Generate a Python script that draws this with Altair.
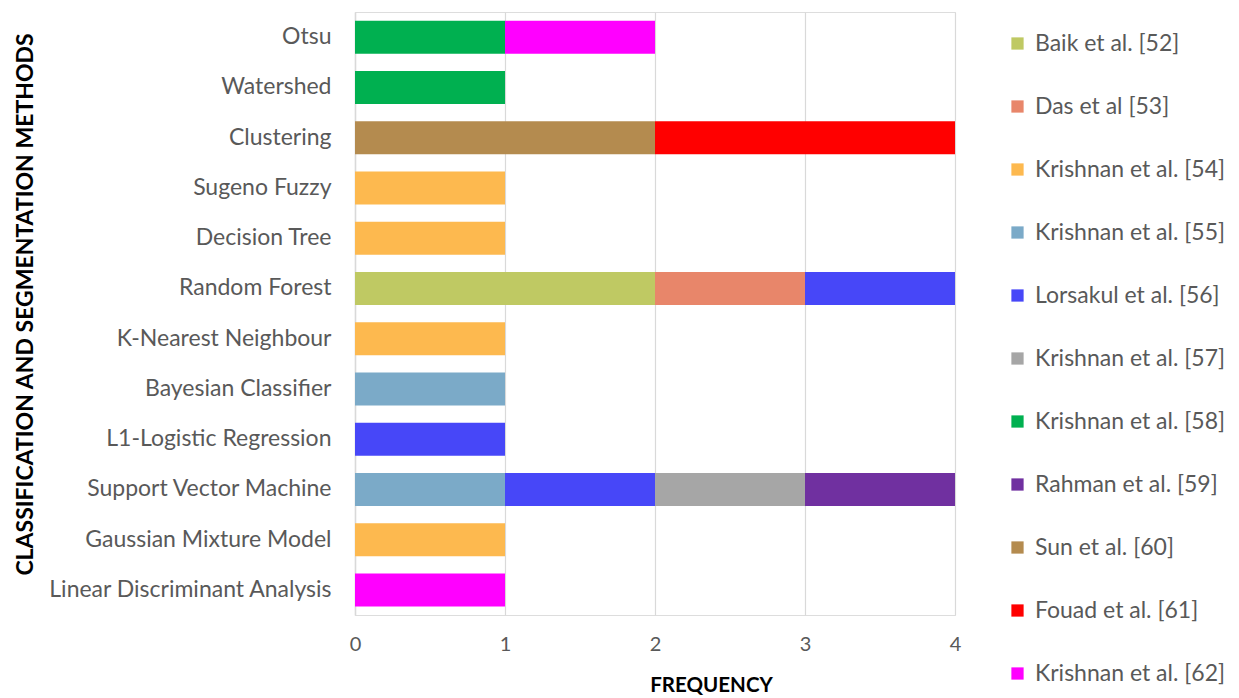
import altair as alt
import pandas as pd

methods = ["Otsu", "Watershed", "Clustering", "Sugeno Fuzzy", "Decision Tree",
           "Random Forest", "K-Nearest Neighbour", "Bayesian Classifier",
           "L1-Logistic Regression", "Support Vector Machine",
           "Gaussian Mixture Model", "Linear Discriminant Analysis"]

series = ["Baik et al. [52]", "Das et al [53]", "Krishnan et al. [54]",
          "Krishnan et al. [55]", "Lorsakul et al. [56]", "Krishnan et al. [57]",
          "Krishnan et al. [58]", "Rahman et al. [59]", "Sun et al. [60]",
          "Fouad et al. [61]", "Krishnan et al. [62]"]

colors = ["#BFC963", "#E8866A", "#FDB94F", "#7BAAC8", "#4747F8", "#A6A6A6",
          "#00B050", "#7030A0", "#B48B4F", "#FF0000", "#FF00FF"]

# values per series, aligned with `methods`
baik52 =      [0, 0, 0, 0, 0, 2, 0, 0, 0, 0, 0, 0]
das53 =       [0, 0, 0, 0, 0, 1, 0, 0, 0, 0, 0, 0]
krishnan54 =  [0, 0, 0, 1, 1, 0, 1, 0, 0, 0, 1, 0]
krishnan55 =  [0, 0, 0, 0, 0, 0, 0, 1, 0, 1, 0, 0]
lorsakul56 =  [0, 0, 0, 0, 0, 1, 0, 0, 1, 1, 0, 0]
krishnan57 =  [0, 0, 0, 0, 0, 0, 0, 0, 0, 1, 0, 0]
krishnan58 =  [1, 1, 0, 0, 0, 0, 0, 0, 0, 0, 0, 0]
rahman59 =    [0, 0, 0, 0, 0, 0, 0, 0, 0, 1, 0, 0]
sun60 =       [0, 0, 2, 0, 0, 0, 0, 0, 0, 0, 0, 0]
fouad61 =     [0, 0, 2, 0, 0, 0, 0, 0, 0, 0, 0, 0]
krishnan62 =  [1, 0, 0, 0, 0, 0, 0, 0, 0, 0, 0, 1]

all_vals = [baik52, das53, krishnan54, krishnan55, lorsakul56, krishnan57,
            krishnan58, rahman59, sun60, fouad61, krishnan62]

rows = []
for si, (name, vals) in enumerate(zip(series, all_vals)):
    for m, v in zip(methods, vals):
        rows.append({"method": m, "series": name, "value": v, "idx": si})
df = pd.DataFrame(rows)

FONT = "Lato"
GRAY = "#595959"

chart = alt.Chart(df).mark_bar(size=33).encode(
    y=alt.Y("method:N", sort=methods,
            scale=alt.Scale(paddingInner=0.34, paddingOuter=0.17),
            axis=alt.Axis(title="CLASSIFICATION AND SEGMENTATION METHODS",
                          titleFont=FONT, titleFontWeight="bold", titleFontSize=23,
                          titleColor="#000000", titleAngle=270,
                          titleX=-330, titleY=292, titleAlign="center",
                          titleBaseline="middle",
                          labelFont=FONT, labelFontSize=23, labelColor=GRAY,
                          labelPadding=24, labelLimit=400, ticks=False, domain=True,
                          domainColor="#D9D9D9", domainWidth=1.5, grid=False)),
    x=alt.X("value:Q", stack="zero",
            scale=alt.Scale(domain=[0, 4], nice=False),
            axis=alt.Axis(title="FREQUENCY", values=[0, 1, 2, 3, 4], format="d",
                          titleFont=FONT, titleFontWeight="bold", titleFontSize=20.5,
                          titleColor="#000000", titleX=356, titleY=70,
                          titleBaseline="middle", titleAlign="center",
                          labelFont=FONT, labelFontSize=20, labelColor=GRAY,
                          labelPadding=19, labelFlush=False, ticks=False, domain=False,
                          grid=True, gridColor="#D9D9D9", gridWidth=1.2)),
    color=alt.Color("series:N", sort=series,
                    scale=alt.Scale(domain=series, range=colors),
                    legend=alt.Legend(title=None, orient="none",
                                      legendX=651, legendY=20,
                                      symbolType="square", symbolSize=150,
                                      symbolStrokeWidth=0,
                                      labelFont=FONT, labelFontSize=23,
                                      labelColor=GRAY, labelOffset=6,
                                      rowPadding=39, labelLimit=300)),
    order=alt.Order("idx:Q", sort="ascending"),
).transform_filter(
    alt.datum.value > 0
).properties(
    width=600, height=603,
    autosize=alt.AutoSizeParams(type="none"),
    padding={"left": 355, "top": 12, "right": 284, "bottom": 83},
).configure_view(stroke=None).configure(background="white")

chart.save("out.html", embed_options={"renderer": "svg", "actions": False})
